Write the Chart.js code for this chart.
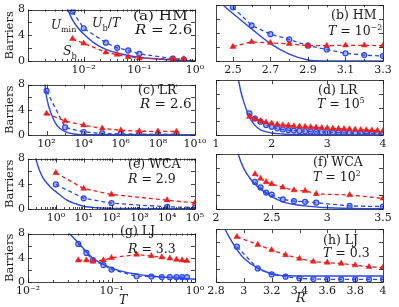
<!DOCTYPE html>
<html>
<head>
<meta charset="utf-8">
<script src="https://cdn.jsdelivr.net/npm/chart.js@4.4.1/dist/chart.umd.min.js"></script>
<style>
html, body { margin:0; padding:0; background:#fff; }
#wrap { position:relative; width:399px; height:307px; overflow:hidden; background:#fff; }
#wrap canvas { position:absolute; }
</style>
</head>
<body>
<div id="wrap"></div>
<script>
// (a) HM, R = 2.6
const aT = [0.0063, 0.01, 0.025, 0.04, 0.063, 0.1, 0.4, 0.63];
const aUb = [7.7, 5.1, 2.85, 2.05, 1.65, 1.1, 0.38, 0.25];
const aSb = [3.45, 2.75, 1.35, 1.0, 0.62, 0.45, 0.3, 0.3];
const aCurveT = [0.005, 0.0063, 0.008, 0.01, 0.016, 0.025, 0.04, 0.063, 0.1, 0.16, 0.4, 1];
const aUmin = [8.3, 6.4, 5.1, 4.2, 2.7, 1.8, 1.25, 0.86, 0.58, 0.38, 0.15, 0.05];
// (b) HM, T = 1e-2
const bR = [2.5, 2.6, 2.7, 2.8, 2.9, 3.0, 3.1, 3.2, 3.3];
const bUb = [7.7, 5.1, 3.85, 3.1, 2.2, 1.65, 1.1, 0.85, 0.7];
const bSb = [2.05, 2.75, 2.6, 2.45, 2.2, 2.2, 2.25, 2.25, 2.2];
const bCurveR = [2.41, 2.45, 2.5, 2.6, 2.7, 2.8, 2.9, 2.95, 3.0, 3.3];
const bUmin = [9.4, 8.0, 6.8, 4.6, 2.5, 1.0, 0.15, 0.03, 0, 0];
// (c) LR, R = 2.6
const cT = [1e2, 1e3, 1e4, 1e5, 1e6, 1e7, 1e8, 1e9];
const cUb = [7.0, 1.2, 0.48, 0.25, 0.18, 0.15, 0.15, 0.15];
const cSb = [3.4, 2.2, 1.55, 1.05, 0.75, 0.6, 0.58, 0.55];
const cCurveT = [70, 100, 200, 300, 500, 1e3, 3e3, 1e4, 1e5, 1e10];
const cUmin = [9.8, 6.0, 3.0, 1.9, 1.1, 0.55, 0.15, 0.05, 0.03, 0.03];
// (d) LR, T = 1e5
const dR = [1.6, 1.7, 1.8, 1.9, 2.0, 2.1, 2.2, 2.3, 2.4, 2.5, 2.6, 2.7, 2.8, 2.9, 3.0, 3.1, 3.2, 3.3, 3.4, 3.5, 3.6, 3.7, 3.8, 3.9, 4.0];
const dUb = [3.15, 2.4, 1.95, 1.45, 1.2, 0.97, 0.8, 0.72, 0.65, 0.6, 0.55, 0.5, 0.47, 0.44, 0.4, 0.37, 0.35, 0.32, 0.3, 0.27, 0.25, 0.22, 0.2, 0.17, 0.15];
const dSb = [2.67, 2.35, 2.05, 1.85, 1.7, 1.55, 1.45, 1.38, 1.3, 1.25, 1.2, 1.15, 1.1, 1.05, 1.0, 0.95, 0.92, 0.88, 0.85, 0.8, 0.75, 0.72, 0.68, 0.64, 0.6];
const dCurveR = [1.4, 1.45, 1.5, 1.55, 1.6, 1.7, 1.8, 2.0, 2.2, 2.5, 3.0, 4.0];
const dUmin = [8.2, 6.2, 4.8, 3.6, 2.6, 1.4, 0.75, 0.3, 0.15, 0.07, 0.03, 0.02];
// (e) WCA, R = 2.9
const eT = [1, 10, 100, 1e4, 1e5];
const eSb = [5.75, 3.25, 2.3, 1.4, 0.97];
const eUb = [3.9, 1.7, 0.92, 0.34, 0.25];
const eCurveT = [0.15, 0.19, 0.25, 0.35, 0.5, 0.7, 1, 2.5, 5, 10, 30, 100, 1e5];
const eUmin = [9.8, 8.0, 6.3, 4.9, 4.0, 3.3, 2.76, 1.4, 0.85, 0.44, 0.2, 0.1, 0.05];
// (f) WCA, T = 1e2
const fR = [2.35, 2.4, 2.45, 2.5, 2.6, 2.7, 2.8, 2.9, 3.2, 3.5];
const fSb = [5.1, 4.45, 3.95, 3.65, 3.15, 2.75, 2.65, 2.2, 2.05, 1.55];
const fUb = [3.95, 3.15, 2.4, 2.1, 1.4, 1.15, 1.05, 0.92, 0.45, 0.35];
const fCurveR = [2.18, 2.2, 2.25, 2.3, 2.35, 2.4, 2.5, 2.6, 2.8, 3.0, 3.5];
const fUmin = [9.5, 8.0, 5.9, 4.6, 3.6, 2.9, 1.8, 1.05, 0.45, 0.18, 0.03];
// (g) LJ, R = 3.3
const gT = [0.04, 0.05, 0.06, 0.08, 0.1, 0.2, 0.3, 0.4, 0.5, 0.6, 0.7, 0.8];
const gUb = [6.3, 4.8, 3.6, 2.8, 2.05, 0.95, 0.9, 0.82, 0.8, 0.8, 0.8, 0.8];
const gSb = [3.6, 3.6, 3.4, 3.6, 4.0, 4.55, 4.3, 4.1, 3.9, 3.7, 3.6, 3.5];
const gCurveT = [0.03, 0.035, 0.04, 0.05, 0.06, 0.08, 0.1, 0.15, 0.2, 0.3, 0.5, 0.8, 1];
const gUmin = [8.3, 7.3, 6.5, 5.0, 3.9, 2.9, 2.3, 1.6, 1.3, 1.0, 0.72, 0.55, 0.45];
// (h) LJ, T = 0.3
const hR = [2.95, 3.1, 3.2, 3.3, 3.4, 3.5, 3.6, 3.7, 3.8, 3.9, 4.0];
const hSb = [6.85, 5.65, 4.85, 4.1, 3.55, 3.1, 2.95, 2.8, 2.55, 2.3, 2.2];
const hUb = [5.35, 2.05, 1.15, 0.8, 0.55, 0.45, 0.4, 0.4, 0.4, 0.4, 0.4];
const hCurveR = [2.85, 2.87, 2.9, 2.95, 3.0, 3.1, 3.2, 3.25, 3.3, 3.5, 4.0];
const hUmin = [8.8, 7.8, 6.6, 4.9, 3.6, 2.1, 1.25, 1.05, 0.95, 0.92, 0.92];

// tick values and labels
const yTicks = [0, 2, 4, 6, 8];
const aTicks = [1e-2, 1e-1, 1], aLabels = ['10⁻²', '10⁻¹', '10⁰'];
const bTicks = [2.5, 2.7, 2.9, 3.1, 3.3], bLabels = ['2.5', '2.7', '2.9', '3.1', '3.3'];
const cTicks = [1e2, 1e4, 1e6, 1e8, 1e10], cLabels = ['10²', '10⁴', '10⁶', '10⁸', '10¹⁰'];
const dTicks = [1, 2, 3, 4], dLabels = ['1', '2', '3', '4'];
const eTicks = [1, 10, 100, 1e3, 1e4, 1e5], eLabels = ['10⁰', '10¹', '10²', '10³', '10⁴', '10⁵'];
const fTicks = [2, 2.5, 3, 3.5], fLabels = ['2', '2.5', '3', '3.5'];
const gTicks = [1e-2, 1e-1, 1], gLabels = ['10⁻²', '10⁻¹', '10⁰'];
const hTicks = [2.8, 3, 3.2, 3.4, 3.6, 3.8, 4], hLabels = ['2.8', '3', '3.2', '3.4', '3.6', '3.8', '4'];

const BLUE = '#2a48f2', RED = '#f21d1d', INK = '#1a1a1a';
const FONT = '"DejaVu Serif", serif';

function pts(xs, ys){ return xs.map((x, i) => ({ x: x, y: ys[i] })); }
function logMinors(e0, e1){
  const out = [];
  for (let e = e0; e < e1; e++) for (let k = 1; k < 10; k++) out.push(k * Math.pow(10, e));
  out.push(Math.pow(10, e1));
  return out;
}

// text with italic / sub / sup pieces, optional horizontal stretch
function drawRich(ctx, x, y, parts, size, sx){
  ctx.save();
  ctx.translate(x, y);
  ctx.scale(sx || 1, 1);
  let cx = 0;
  parts.forEach(p => {
    const t = p[0], s = p[1] || 'r';
    let fs = size, dy = 0, st = '';
    if (s === 'i') st = 'italic ';
    if (s === 'sub') { fs = size * 0.66; dy = size * 0.28; }
    if (s === 'sup') { fs = size * 0.62; dy = -size * 0.42; }
    ctx.font = st + fs + 'px ' + FONT;
    ctx.fillText(t, cx, dy);
    cx += ctx.measureText(t).width;
  });
  ctx.restore();
}

const framePlugin = {
  id: 'frame',
  afterDatasetsDraw(chart, args, o){
    const ctx = chart.ctx, a = chart.chartArea, xs = chart.scales.x, ys = chart.scales.y;
    ctx.save();
    ctx.strokeStyle = INK; ctx.lineWidth = 0.8;
    ctx.beginPath();
    const tick = (v, len, horiz) => {
      if (horiz) {
        const px = Math.round(xs.getPixelForValue(v)) + 0.5;
        ctx.moveTo(px, a.bottom); ctx.lineTo(px, a.bottom - len);
        ctx.moveTo(px, a.top); ctx.lineTo(px, a.top + len);
      } else {
        const py = Math.round(ys.getPixelForValue(v)) + 0.5;
        ctx.moveTo(a.left, py); ctx.lineTo(a.left + len, py);
        ctx.moveTo(a.right, py); ctx.lineTo(a.right - len, py);
      }
    };
    (o.minor || []).forEach(v => tick(v, 2, true));
    (o.major || []).forEach(v => tick(v, 4, true));
    yTicks.forEach(v => tick(v, 4, false));
    ctx.stroke();
    ctx.strokeRect(Math.round(a.left) + 0.5, Math.round(a.top) + 0.5, Math.round(a.right - a.left), Math.round(a.bottom - a.top));
    ctx.fillStyle = INK;
    ctx.textBaseline = 'alphabetic';
    (o.texts || []).forEach(t => drawRich(ctx, t.x - o.ox, t.y - o.oy, t.parts, t.size || 12.5, t.sx));
    ctx.restore();
  }
};

const rowTop = [0, 75, 149, 224], rowH = [81, 80, 80, 83], rowXH = [20, 20, 20, 25];
const colLeft = [0, 195], colW = [210, 204], colYW = [28, 21], colPadR = [15, 16];

const panels = [
  { col:0, row:0, type:'logarithmic', min:1e-3, max:1, ticks:aTicks, labels:aLabels, minor:logMinors(-3, 0),
    red:pts(aT, aSb), blue:pts(aT, aUb), curve:pts(aCurveT, aUmin),
    texts:[ {x:133, y:20, sx:1.22, parts:[['(a) HM']]}, {x:135, y:34, sx:1.2, parts:[['R','i'],[' = 2.6']]},
            {x:51, y:29, size:12, parts:[['U','i'],['min','sub']]}, {x:92, y:27, size:12.5, parts:[['U','i'],['b','sub'],['/'],['T','i']]},
            {x:63, y:55, size:12.5, parts:[['S','i'],['b','sub']]} ] },
  { col:1, row:0, type:'linear', min:2.41, max:3.3, ticks:bTicks, labels:bLabels, minor:[2.6, 2.8, 3.0, 3.2],
    red:pts(bR, bSb), blue:pts(bR, bUb), curve:pts(bCurveR, bUmin),
    texts:[ {x:331, y:19, parts:[['(b) HM']]}, {x:328, y:35, parts:[['T','i'],[' = 10'],['−2','sup']]} ] },
  { col:0, row:1, type:'logarithmic', min:10, max:1e10, ticks:cTicks, labels:cLabels, minor:[10, 1e3, 1e5, 1e7, 1e9],
    red:pts(cT, cSb), blue:pts(cT, cUb), curve:pts(cCurveT, cUmin),
    texts:[ {x:138, y:94, parts:[['(c) LR']]}, {x:140, y:108, sx:1.08, parts:[['R','i'],[' = 2.6']]} ] },
  { col:1, row:1, type:'linear', min:1, max:4, ticks:dTicks, labels:dLabels, minor:[],
    red:pts(dR, dSb), blue:pts(dR, dUb), curve:pts(dCurveR, dUmin),
    texts:[ {x:318, y:94, parts:[['(d) LR']]}, {x:317, y:108, parts:[['T','i'],[' = 10'],['5','sup']]} ] },
  { col:0, row:2, type:'logarithmic', min:0.1, max:1e5, ticks:eTicks, labels:eLabels, minor:logMinors(-1, 5),
    red:pts(eT, eSb), blue:pts(eT, eUb), curve:pts(eCurveT, eUmin),
    texts:[ {x:128, y:168, parts:[['(e) WCA']]}, {x:128, y:183, parts:[['R','i'],[' = 2.9']]} ] },
  { col:1, row:2, type:'linear', min:2, max:3.5, ticks:fTicks, labels:fLabels, minor:[],
    red:pts(fR, fSb), blue:pts(fR, fUb), curve:pts(fCurveR, fUmin),
    texts:[ {x:313, y:166, parts:[['(f) WCA']]}, {x:313, y:181, parts:[['T','i'],[' = 10'],['2','sup']]} ] },
  { col:0, row:3, type:'logarithmic', min:1e-2, max:1, ticks:gTicks, labels:gLabels, minor:logMinors(-2, 0),
    red:pts(gT, gSb), blue:pts(gT, gUb), curve:pts(gCurveT, gUmin),
    texts:[ {x:120, y:235, parts:[['(g) LJ']]}, {x:128, y:253, parts:[['R','i'],[' = 3.3']]},
            {x:119, y:304, parts:[['T','i']]} ] },
  { col:1, row:3, type:'linear', min:2.8, max:4, ticks:hTicks, labels:hLabels, minor:[],
    red:pts(hR, hSb), blue:pts(hR, hUb), curve:pts(hCurveR, hUmin),
    texts:[ {x:323, y:244, parts:[['(h) LJ']]}, {x:323, y:257, parts:[['T','i'],[' = 0.3']]},
            {x:296, y:302, parts:[['R','i']]} ] }
];

const wrap = document.getElementById('wrap');
panels.forEach(p => {
  const ox = colLeft[p.col], oy = rowTop[p.row], w = colW[p.col], h = rowH[p.row];
  const cv = document.createElement('canvas');
  cv.width = w; cv.height = h;
  cv.style.left = ox + 'px'; cv.style.top = oy + 'px';
  cv.style.width = w + 'px'; cv.style.height = h + 'px';
  wrap.appendChild(cv);
  const left = p.col === 0;
  new Chart(cv, {
    type: 'line',
    data: { datasets: [
      { data: p.red, borderColor: RED, backgroundColor: RED, borderWidth: 1.3, borderDash: [4, 3],
        pointStyle: 'triangle', pointRadius: 3.4, pointBackgroundColor: RED, pointBorderColor: RED, pointBorderWidth: 0.5 },
      { data: p.blue, borderColor: BLUE, backgroundColor: BLUE, borderWidth: 1.3, borderDash: [4, 3],
        pointStyle: 'circle', pointRadius: 2.5, pointBorderWidth: 1.2, pointBorderColor: BLUE,
        pointBackgroundColor: 'rgba(42,72,242,0.4)' },
      { data: p.curve, borderColor: BLUE, borderWidth: 1.4, pointRadius: 0, cubicInterpolationMode: 'monotone' }
    ] },
    options: {
      responsive: false, animation: false, devicePixelRatio: 1,
      layout: { padding: { top: 5, right: colPadR[p.col], left: 0, bottom: 0 } },
      plugins: { legend: { display: false }, tooltip: { enabled: false },
        frame: { major: p.ticks, minor: p.minor, texts: p.texts, ox: ox, oy: oy } },
      scales: {
        x: { type: p.type, min: p.min, max: p.max,
          grid: { display: false, drawTicks: false }, border: { display: false },
          afterBuildTicks: s => { s.ticks = p.ticks.map(v => ({ value: v })); },
          afterFit: s => { s.height = rowXH[p.row]; },
          ticks: { autoSkip: false, maxRotation: 0, padding: 3, color: INK,
            font: { family: FONT, size: 11 }, callback: (v, i) => p.labels[i] } },
        y: { min: 0, max: 8,
          grid: { display: false, drawTicks: false }, border: { display: false },
          afterBuildTicks: s => { s.ticks = yTicks.map(v => ({ value: v })); },
          afterFit: s => { s.width = colYW[p.col]; },
          title: { display: left, text: 'Barriers', color: INK, padding: { top: 3, bottom: 0 },
            font: { family: FONT, size: 11.5 } },
          ticks: { display: left, padding: 3, color: INK, font: { family: FONT, size: 11 } } }
      }
    },
    plugins: [framePlugin]
  });
});
</script>
</body>
</html>
